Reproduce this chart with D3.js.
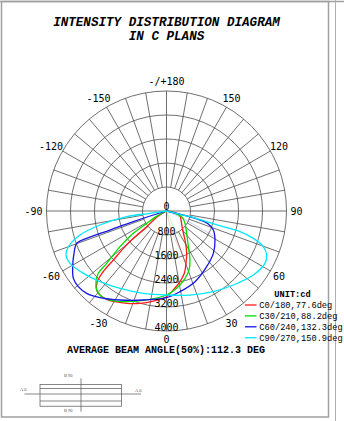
<!DOCTYPE html>
<html>
<head>
<meta charset="utf-8">
<script src="https://cdn.jsdelivr.net/npm/d3@7"></script>
<style>
  body { margin: 0; background: #fff; }
  svg { display: block; }
</style>
</head>
<body>
<svg id="polar"></svg>
<script>
// intensity values [gamma (deg), cd], gamma 0 = nadir, negative = left half
const c0 = [[-90, 0], [-58, 320], [-51.7, 842], [-50.5, 1433], [-49.1, 1902], [-47.3, 2410], [-46.2, 2919], [-44.4, 3296], [-41.5, 3515], [-38.4, 3571], [-34.1, 3556], [-29.6, 3476], [-23.3, 3352], [-16, 3202], [-8.3, 3032], [0, 2856], [4.9, 2643], [10.8, 2398], [16, 2161], [20.4, 1862], [25.5, 1563], [32.5, 1147], [40.4, 831], [58.2, 569], [69.7, 480], [77.1, 348], [84.6, 117], [90, 0]];
const c30 = [[-90, 0], [-62, 350], [-58.1, 779], [-56, 1333], [-52.5, 1953], [-48.8, 2650], [-47.6, 3079], [-44.9, 3328], [-41.5, 3515], [-37.1, 3581], [-32.4, 3514], [-23.7, 3301], [-12.6, 3039], [0, 2800], [7.5, 2600], [15.4, 2328], [20.9, 2105], [25.6, 1811], [31.5, 1394], [42.1, 1003], [56.3, 741], [69.5, 540], [76.3, 234], [90, 0]];
const c60 = [[-90, 0], [-73.1, 459], [-72.2, 1161], [-71.4, 1987], [-71.1, 2813], [-70.2, 3182], [-65.4, 3391], [-59.3, 3637], [-54.1, 3832], [-49.4, 3873], [-44.1, 3822], [-37.5, 3641], [-27.6, 3347], [-14.6, 3066], [0, 2889], [9.5, 2726], [22, 2540], [35.8, 2288], [47.9, 2104], [59.1, 1884], [67.9, 1685], [72.7, 1460], [74.9, 1156], [76.1, 692], [76.3, 234], [90, 0]];
const c90 = [[-90, 0], [-81.9, 556], [-81.9, 1341], [-78.1, 2265], [-74.5, 2992], [-70, 3481], [-66.4, 3657], [-61.5, 3659], [-53.1, 3464], [-43.3, 3234], [-31, 3008], [-15.7, 2851], [0, 2800], [15.6, 2908], [30.1, 3109], [42.1, 3324], [53.6, 3596], [62, 3718], [66.3, 3647], [69.8, 3440], [72.5, 3034], [74.3, 2545], [74.6, 1965], [75.1, 1385], [76.4, 806], [76.3, 234], [90, 0]];
// faint opposite-half traces
const c180 = [[0, 0], [14, 600], [17, 1000], [20, 1600], [20, 1950]];
const c210 = [[0, 0], [25, 700], [30, 1200], [33, 1400]];
const c240 = [[0, 0], [66, 600], [63, 1200], [62, 1830]];

const series = [
  { name: "C0/180,77.6deg", data: c0, faint: c180, color: "#ff1a1a" },
  { name: "C30/210,88.2deg", data: c30, faint: c210, color: "#00dd00" },
  { name: "C60/240,132.3deg", data: c60, faint: c240, color: "#1414e6" },
  { name: "C90/270,150.9deg", data: c90, faint: null, color: "#00e8ff" }
];
const ringValues = [800, 1600, 2400, 3200, 4000];
const angleLabels = [
  { a: 0, t: "0" }, { a: 30, t: "30" }, { a: 60, t: "60" }, { a: 90, t: "90" },
  { a: 120, t: "120" }, { a: 150, t: "150" }, { a: 180, t: "-/+180" },
  { a: -30, t: "-30" }, { a: -60, t: "-60" }, { a: -90, t: "-90" },
  { a: -120, t: "-120" }, { a: -150, t: "-150" }
];
const title = ["INTENSITY DISTRIBUTION DIAGRAM", "IN C PLANS"];
const beamText = "AVERAGE BEAM ANGLE(50%):112.3 DEG";

const width = 344, height = 421;
const cx = 166.5, cy = 211;
const R = 120;
const grid = "#4a4a4a";
const mono = "'DejaVu Sans Mono', monospace";
const courier = "'Liberation Mono', 'Courier New', monospace";

const svg = d3.select("#polar").attr("width", width).attr("height", height);

// frame
svg.append("rect").attr("x", 1.5).attr("y", 1.5).attr("width", 327).attr("height", 415.5)
  .attr("fill", "none").attr("stroke", "#a0a0a0").attr("stroke-width", 1.5);
svg.append("line").attr("x1", 0).attr("x2", width).attr("y1", 1.5).attr("y2", 1.5)
  .attr("stroke", "#a0a0a0").attr("stroke-width", 1.5);
svg.append("line").attr("x1", 335.5).attr("x2", 335.5).attr("y1", 0).attr("y2", height)
  .attr("stroke", "#b0b0b0").attr("stroke-width", 1);

// title
svg.append("g").selectAll("text").data(title).join("text")
  .attr("x", 166.5).attr("y", (d, i) => 26 + i * 13.5)
  .attr("text-anchor", "middle")
  .attr("font-family", courier).attr("font-weight", "bold").attr("font-style", "italic")
  .attr("font-size", 12.6).text(d => d);

const r = d3.scaleLinear().domain([0, 4000]).range([0, R]);
const rad = d => (d * Math.PI) / 180;

const g = svg.append("g").attr("transform", `translate(${cx},${cy})`);

// rings
g.append("g").selectAll("circle").data(ringValues).join("circle")
  .attr("r", d => r(d)).attr("fill", "none").attr("stroke", grid).attr("stroke-width", 0.8);

// spokes every 10 deg
const spokes = d3.range(0, 360, 10).filter(d => d % 90 !== 0);
g.append("g").selectAll("line").data(spokes).join("line")
  .attr("x1", d => r(800) * Math.sin(rad(d))).attr("y1", d => r(800) * Math.cos(rad(d)))
  .attr("x2", d => R * Math.sin(rad(d))).attr("y2", d => R * Math.cos(rad(d)))
  .attr("stroke", grid).attr("stroke-width", 0.8);
g.append("line").attr("x1", -R).attr("x2", R).attr("stroke", grid).attr("stroke-width", 0.8);
g.append("line").attr("y1", -R).attr("y2", R).attr("stroke", grid).attr("stroke-width", 0.8);

// angle labels
g.append("g").selectAll("text").data(angleLabels).join("text")
  .attr("x", d => 130 * Math.sin(rad(d.a)) + (d.t[0] === "-" && d.a !== 180 ? -3 : 0))
  .attr("y", d => 130 * Math.cos(rad(d.a)) + (d.a === 0 ? 1.5 : 3.5))
  .attr("text-anchor", "middle")
  .attr("font-family", mono).attr("font-size", 10).text(d => d.t);

// curves
const line = d3.lineRadial()
  .angle(d => Math.PI - rad(d[0]))
  .radius(d => r(d[1]))
  .curve(d3.curveCatmullRom.alpha(0.5));

g.append("g").selectAll("path").data(series.filter(s => s.faint)).join("path")
  .attr("d", s => line(s.faint)).attr("fill", "none")
  .attr("stroke", s => s.color).attr("stroke-opacity", 0.22).attr("stroke-width", 1);

g.append("g").selectAll("path").data(series).join("path")
  .attr("d", s => line(s.data)).attr("fill", "none")
  .attr("stroke", s => s.color).attr("stroke-width", 1.3).attr("stroke-linejoin", "round");

// ring labels
g.append("g").selectAll("text").data(ringValues).join("text")
  .attr("x", 0).attr("y", d => r(d) - 0.5)
  .attr("text-anchor", "middle")
  .attr("font-family", mono).attr("font-size", 10).text(d => d);
g.append("text").attr("x", 0).attr("y", -1).attr("text-anchor", "middle")
  .attr("font-family", mono).attr("font-size", 10).text("0");

// legend
const legend = svg.append("g");
legend.append("text").attr("x", 292.5).attr("y", 297).attr("text-anchor", "middle")
  .attr("font-family", courier).attr("font-weight", "bold").attr("font-size", 8.7).text("UNIT:cd");
const items = legend.selectAll("g.item").data(series).join("g").attr("class", "item")
  .attr("transform", (d, i) => `translate(245,${305 + i * 10.9})`);
items.append("line").attr("x1", 0).attr("x2", 11.5)
  .attr("stroke", d => d.color).attr("stroke-width", 1.3);
items.append("text").attr("x", 14.3).attr("y", 3)
  .attr("font-family", courier).attr("font-size", 8.7).text(d => d.name);

// beam angle
svg.append("text").attr("x", 166).attr("y", 352.5).attr("text-anchor", "middle")
  .attr("font-family", courier).attr("font-weight", "bold").attr("font-size", 10).text(beamText);

// luminaire sketch
const lum = svg.append("g").attr("stroke", "#555").attr("stroke-width", 0.7).attr("fill", "none");
lum.append("rect").attr("x", 40).attr("y", 384.4).attr("width", 81.5).attr("height", 21.8);
[388.5, 401].forEach(y => lum.append("line").attr("x1", 40).attr("x2", 121.5).attr("y1", y).attr("y2", y));
lum.append("line").attr("x1", 24.5).attr("x2", 141).attr("y1", 394).attr("y2", 394);
lum.append("line").attr("x1", 81).attr("x2", 81).attr("y1", 378.3).attr("y2", 411.7);
const lumText = [
  { x: 68.3, y: 377.3, t: "B 90" }, { x: 68.3, y: 411.5, t: "B 90" },
  { x: 23.3, y: 390.8, t: "A 0" }, { x: 138.3, y: 391.5, t: "A 0" }
];
svg.append("g").selectAll("text").data(lumText).join("text")
  .attr("x", d => d.x).attr("y", d => d.y).attr("text-anchor", "middle")
  .attr("font-family", "'Liberation Serif', serif").attr("font-size", 4.5).attr("fill", "#555")
  .text(d => d.t);
</script>
</body>
</html>
